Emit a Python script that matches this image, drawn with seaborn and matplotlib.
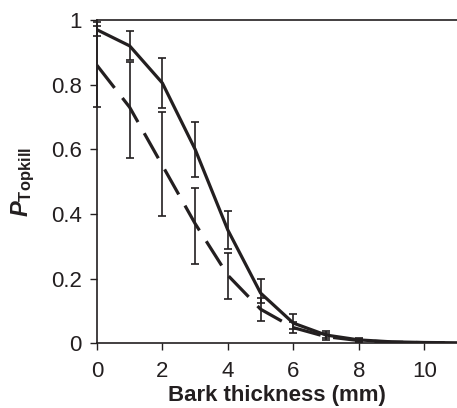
import numpy as np
import pandas as pd
import matplotlib
matplotlib.use("Agg")
import matplotlib.pyplot as plt
import seaborn as sns

# values
bark = [0, 1, 2, 3, 4, 5, 6, 7, 8, 9, 10, 11]
p_solid = [0.97, 0.92, 0.805, 0.60, 0.35, 0.155, 0.062, 0.025, 0.010, 0.004, 0.002, 0.001]
p_dashed = [0.86, 0.73, 0.55, 0.37, 0.21, 0.105, 0.048, 0.020, 0.008, 0.003, 0.0015, 0.0007]

# error bars (low, high) at 0..8 mm
err_x = [0, 1, 2, 3, 4, 5, 6, 7, 8]
solid_lo = [0.95, 0.876, 0.728, 0.515, 0.29, 0.125, 0.045, 0.015, 0.005]
solid_hi = [0.995, 0.966, 0.883, 0.685, 0.41, 0.20, 0.09, 0.038, 0.016]
dashed_lo = [0.73, 0.573, 0.393, 0.245, 0.137, 0.068, 0.03, 0.01, 0.003]
dashed_hi = [0.98, 0.87, 0.716, 0.48, 0.28, 0.14, 0.065, 0.03, 0.013]

sns.set_style("ticks")
plt.rcParams["font.family"] = ["Liberation Sans", "DejaVu Sans"]
plt.rcParams["mathtext.fontset"] = "custom"
plt.rcParams["mathtext.rm"] = "Liberation Sans"
plt.rcParams["mathtext.bf"] = "Liberation Sans:bold"
plt.rcParams["mathtext.it"] = "Liberation Sans:italic"
plt.rcParams["mathtext.bfit"] = "Liberation Sans:italic:bold"

df = pd.DataFrame({"bark": bark + bark,
                   "p": p_solid + p_dashed,
                   "model": ["solid"] * len(bark) + ["dashed"] * len(bark)})

fig = plt.figure(figsize=(4.57, 4.08), dpi=100)
ax = fig.add_axes([0.212, 0.159, 0.788, 0.792])

col = "#231f20"
sns.lineplot(data=df[df.model == "solid"], x="bark", y="p", color=col, lw=2.3, ax=ax)
sns.lineplot(data=df[df.model == "dashed"], x="bark", y="p", color=col, lw=2.3,
             ax=ax).lines[-1].set_dashes([9, 4])

for lo, hi in [(solid_lo, solid_hi), (dashed_lo, dashed_hi)]:
    mid = [(a + b) / 2 for a, b in zip(lo, hi)]
    half = [(b - a) / 2 for a, b in zip(lo, hi)]
    ax.errorbar(err_x, mid, yerr=half, fmt="none", ecolor=col, elinewidth=1.2,
                capsize=2.9, capthick=1.2, clip_on=False)

ax.set_xlim(0, 11)
ax.set_ylim(0, 1)
ax.set_xticks([0, 2, 4, 6, 8, 10])
ax.set_yticks([0, 0.2, 0.4, 0.6, 0.8, 1])
ax.set_yticklabels(["0", "0.2", "0.4", "0.6", "0.8", "1"])
ax.tick_params(labelsize=16, length=5, width=1, color=col, labelcolor=col)
ax.tick_params(axis="x", pad=8)
ax.tick_params(axis="y", pad=6)
ax.spines["right"].set_visible(False)
for s in ["left", "bottom", "top"]:
    ax.spines[s].set_color(col)
    ax.spines[s].set_linewidth(1.2)
ax.set_xlabel("Bark thickness (mm)", fontsize=16, fontweight="bold", color=col, labelpad=2)
ax.set_ylabel(r"$\mathbfit{P}_{\mathbf{Topkill}}$", fontsize=17, color=col, labelpad=10)

fig.savefig("out.png", dpi=100)
